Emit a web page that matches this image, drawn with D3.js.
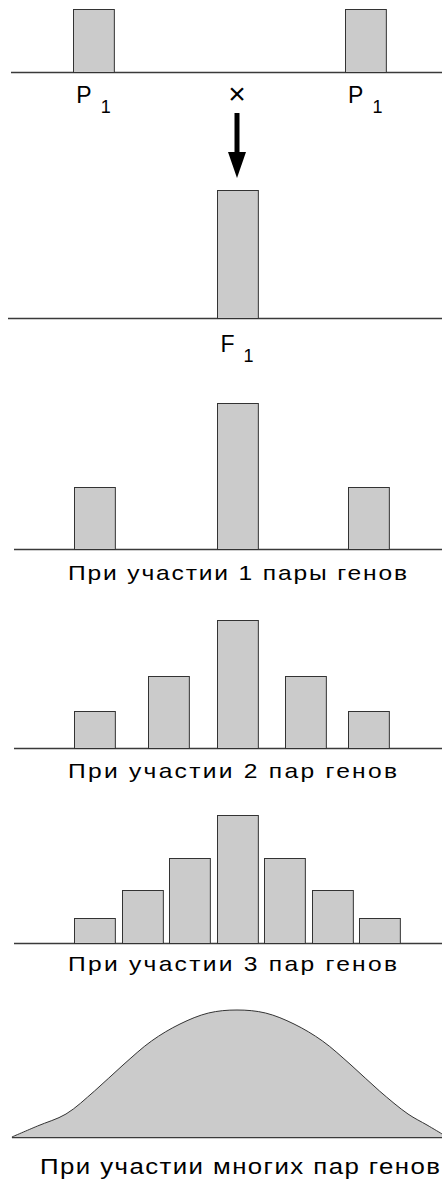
<!DOCTYPE html>
<html>
<head>
<meta charset="utf-8">
<script src="https://cdn.jsdelivr.net/npm/d3@7"></script>
<style>
  body { margin: 0; background: #fff; }
  text { font-family: "Liberation Sans", Arial, sans-serif; fill: #000; }
</style>
</head>
<body>
<script>
// Phenotype classes (centre of the bar, in class units) and bar heights
const parentValues = [-3.02, 2.7];
const parentHeights = [63, 63];

const f1Values = [0];
const f1Heights = [128];

const pair1Values = [-3, 0, 2.76];
const pair1Heights = [62, 146, 62];

const pair2Values = [-3, -1.44, 0, 1.44, 2.76];
const pair2Heights = [37, 72, 128, 72, 37];

const pair3Values = [-3, -2, -1, 0, 1, 2, 3];
const pair3Heights = [25, 53, 85, 128, 85, 53, 25];

// Smooth distribution for many gene pairs
const manyValues = [-4.74, -4.2, -3.6, -3.0, -2.4, -1.8, -1.2, -0.6, 0,
                    0.6, 1.2, 1.8, 2.4, 3.0, 3.6, 4.0, 4.32];
const manyHeights = [0, 11, 23, 46, 72, 96, 113, 124, 127,
                     124, 113, 96, 72, 46, 23, 12, 3];

const captions = [
    "При участии 1 пары генов",
    "При участии 2 пар генов",
    "При участии 3 пар генов",
    "При участии многих пар генов"
];

const width = 442;
const height = 1182;
const fill = "#cbcbcb";
const stroke = "#333";

const x = d3.scaleLinear()
    .domain([-3, 3])
    .range([94.5, 379.5]);

const barHalf = 0.43; // half bar width, class units

const svg = d3.select("body")
    .append("svg")
    .attr("width", width)
    .attr("height", height);

// each panel sits on its own baseline
function panel(baseline, lineStart) {
    const g = svg.append("g")
        .attr("transform", `translate(0, ${baseline})`);
    const y = d3.scaleLinear().domain([0, 150]).range([0, -150]);
    g.append("line")
        .attr("x1", lineStart)
        .attr("x2", width)
        .attr("y1", 0.5)
        .attr("y2", 0.5)
        .attr("stroke", "#3a3a3a")
        .attr("stroke-width", 1.3);
    return { g, y };
}

function bars(p, values, heights) {
    p.g.selectAll(".bar")
        .data(values.map((v, i) => ({ v, h: heights[i] })))
        .enter()
        .append("rect")
        .attr("class", "bar")
        .attr("x", d => Math.round(x(d.v - barHalf)) + 0.5)
        .attr("width", x(barHalf) - x(-barHalf))
        .attr("y", d => p.y(d.h) + 0.5)
        .attr("height", d => p.y(0) - p.y(d.h))
        .attr("fill", fill)
        .attr("stroke", stroke)
        .attr("stroke-width", 1);
}

// captions in the picture use wide glyphs, so stretch them a little
const stretch = 1.2;
function caption(txt, baseline, x0, x1, size) {
    svg.append("text")
        .attr("transform", `translate(${x0}, ${baseline}) scale(${stretch}, 1)`)
        .attr("font-size", size)
        .attr("textLength", (x1 - x0) / stretch)
        .attr("lengthAdjust", "spacing")
        .text(txt);
}

function subLabel(letter, cx, baseline) {
    const t = svg.append("text")
        .attr("x", cx)
        .attr("y", baseline)
        .attr("text-anchor", "middle")
        .attr("font-size", 23);
    t.append("tspan").text(letter);
    t.append("tspan")
        .attr("dx", 9)
        .attr("dy", 10)
        .attr("font-size", 18)
        .text("1");
}

// P1 x P1
const p1 = panel(72, 11);
bars(p1, parentValues, parentHeights);
parentValues.forEach(v => subLabel("P", x(v), 103));

svg.append("text")
    .attr("x", x(0))
    .attr("y", 104)
    .attr("text-anchor", "middle")
    .attr("font-size", 30)
    .attr("font-weight", 300)
    .text("×");

// arrow down to F1
svg.append("line")
    .attr("x1", x(0))
    .attr("x2", x(0))
    .attr("y1", 113)
    .attr("y2", 155)
    .attr("stroke", "#000")
    .attr("stroke-width", 5);
svg.append("path")
    .attr("d", `M${x(0) - 9},152L${x(0) + 9},152L${x(0)},178Z`)
    .attr("fill", "#000");

// F1
const f1 = panel(318, 8);
bars(f1, f1Values, f1Heights);
subLabel("F", x(0), 352);

// 1 pair
const pp1 = panel(549, 14);
bars(pp1, pair1Values, pair1Heights);
caption(captions[0], 580, 68, 407, 20.5);

// 2 pairs
const pp2 = panel(748, 14);
bars(pp2, pair2Values, pair2Heights);
caption(captions[1], 778, 68, 397, 20.5);

// 3 pairs
const pp3 = panel(943, 14);
bars(pp3, pair3Values, pair3Heights);
caption(captions[2], 971, 68, 397, 20.5);

// many pairs
const pm = panel(1137, 12);
const curveData = manyValues.map((v, i) => ({ v, h: manyHeights[i] }));
const area = d3.area()
    .x(d => x(d.v))
    .y0(pm.y(0))
    .y1(d => pm.y(d.h))
    .curve(d3.curveCatmullRom);
pm.g.append("path")
    .datum(curveData)
    .attr("d", area)
    .attr("fill", fill);
pm.g.append("path")
    .datum(curveData)
    .attr("d", d3.line().x(d => x(d.v)).y(d => pm.y(d.h)).curve(d3.curveCatmullRom))
    .attr("fill", "none")
    .attr("stroke", stroke)
    .attr("stroke-width", 1);
caption(captions[3], 1174, 40, 440, 21.5);
</script>
</body>
</html>
